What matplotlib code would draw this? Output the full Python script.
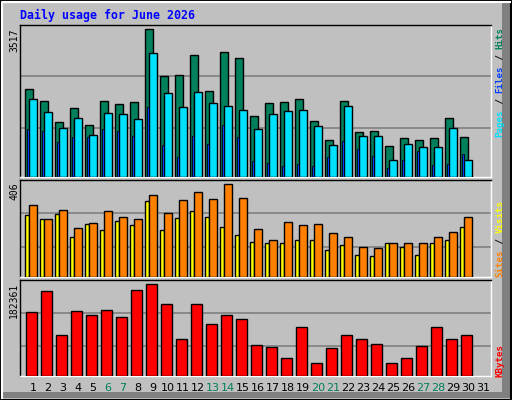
import matplotlib
matplotlib.use("Agg")
import matplotlib.pyplot as plt
from matplotlib.patches import Rectangle, Polygon
import numpy as np

days = list(range(1, 31))
day_labels = [str(d) for d in range(1, 32)]
weekend_days = [6, 7, 13, 14, 20, 21, 27, 28]

hits = [2085,1822,1321,1655,1249,1822,1727,1798,3517,2395,2419,2896,2037,2968,2825,
        1464,1774,1798,1846,1345,891,1822,1082,1106,748,939,891,939,1416,963]
files = [1846,1560,1178,1416,1011,1536,1512,1392,2944,1989,1679,2013,1774,1703,1607,
         1154,1512,1583,1607,1225,772,1703,987,987,414,796,724,724,1178,414]
pages = [1154,1106,843,963,963,1154,1106,987,1679,772,485,987,796,1249,963,
         390,342,271,318,271,485,867,676,509,223,414,629,294,318,557]
visits = [313,252,291,212,234,287,260,252,357,278,335,371,340,406,344,
          207,159,238,225,229,190,172,132,128,146,146,146,172,194,260]
sites = [269,252,274,172,229,203,243,225,331,203,256,287,260,216,181,
         154,146,146,159,163,119,141,97,93,150,132,97,146,163,216]
kbytes = [126445,168372,80526,128442,120456,130438,116463,170368,182361,142417,72540,142417,
          102487,120456,112470,60561,56568,36603,96498,26620,54571,80526,72540,62557,26620,
          36603,58564,96498,72540,80526]

W, H = 512, 400
fig = plt.figure(figsize=(W/100, H/100), dpi=100)
fig.patch.set_facecolor("#C0C0C0")

def fx(x): return x / W
def fy(y): return 1 - y / H

# bevel / border
fig.patches.append(Polygon([(fx(502), fy(2)), (fx(510), fy(2)), (fx(510), fy(398)), (fx(2), fy(398)),
                            (fx(2), fy(392)), (fx(502), fy(392))], closed=True,
                           transform=fig.transFigure, facecolor="#808080", edgecolor="none"))
fig.lines.append(plt.Line2D([fx(1.5), fx(1.5), fx(510)], [fy(398), fy(1.5), fy(1.5)],
                            transform=fig.transFigure, color="white", lw=1.5))
fig.patches.append(Rectangle((0.001, 0.001), 0.997, 0.997, transform=fig.transFigure,
                             fill=False, edgecolor="black", lw=1.5))

def make_ax(top, bottom):
    ax = fig.add_axes([fx(20), fy(bottom), fx(491) - fx(20), fy(top) - fy(bottom)])
    ax.set_facecolor("#C0C0C0")
    ax.set_xlim(0.267, 31.67)
    for s in ax.spines.values():
        s.set_color("black"); s.set_linewidth(1)
    ax.spines["right"].set_color("white")
    ax.spines["bottom"].set_color("white")
    ax.set_yticks([]); ax.set_xticks([])
    return ax

x = np.array(days, dtype=float)
ek = dict(edgecolor="black", linewidth=1, zorder=3)

ax1 = make_ax(25, 177)
ax1.set_ylim(0, 3517 * 455 / 442)
for g in (2395, 1178):
    ax1.axhline(g, color="#808080", lw=1.2, zorder=1)
ax1.bar(x - 0.133, hits, width=0.53, color="#00805C", **ek)
ax1.bar(x - 0.2, pages, width=0.13, color="#0040FF", edgecolor="black", linewidth=0.6, zorder=4)
ax1.bar(x + 0.133, files, width=0.53, color="#00E0FF", **ek)

ax2 = make_ax(180, 277)
ax2.set_ylim(0, 406 * 287 / 276)
for g in (278, 132):
    ax2.axhline(g, color="#808080", lw=1.2, zorder=1)
ax2.bar(x - 0.267, sites, width=0.27, color="#FFFF00", **ek)
ax2.bar(x + 0.133, visits, width=0.53, color="#FF8000", **ek)

ax3 = make_ax(280, 376)
ax3.set_ylim(0, 182361 * 286 / 274)
for g in (124460, 58568):
    ax3.axhline(g, color="#808080", lw=1.2, zorder=1)
ax3.bar(x + 0.033, kbytes, width=0.73, color="#FF0000", **ek)

ticks = np.arange(1, 32) + 0.13
ax3.set_xticks(ticks)
ax3.set_xticklabels(day_labels, fontsize=8, family="DejaVu Sans")
ax3.tick_params(axis="x", length=0, pad=5)
for lab, d in zip(ax3.get_xticklabels(), range(1, 32)):
    lab.set_color("#00805C" if d in weekend_days else "black")

mono = "DejaVu Sans Mono"
fig.text(fx(20), fy(15), "Daily usage for June 2026", color="#0000FF", family=mono,
         fontweight="bold", fontsize=8.4, ha="left", va="center")

for txt, top in (("3517", 28), ("406", 182), ("182361", 283)):
    fig.text(fx(14), fy(top), txt, rotation=90, family=mono, fontsize=7,
             ha="center", va="top", color="black")

fs = 6.6
ch = 0.602 * fs * 100 / 72
def vlabel(segments, bottom):
    idx = 0
    for s, c in segments:
        fig.text(fx(500), fy(bottom - idx * ch), s, rotation=90, family=mono, fontsize=fs,
                 fontweight="bold", color=c, ha="center", va="bottom")
        idx += len(s)

vlabel([("Pages", "#00E0FF"), (" / ", "#000000"), ("Files", "#0040FF"),
        (" / ", "#000000"), ("Hits", "#00805C")], 137)
vlabel([("Sites", "#FF8000"), (" / ", "#000000"), ("Visits", "#FFFF00")], 277)
vlabel([("KBytes", "#FF0000")], 377)

fig.savefig("out.png", dpi=100, facecolor=fig.get_facecolor())
